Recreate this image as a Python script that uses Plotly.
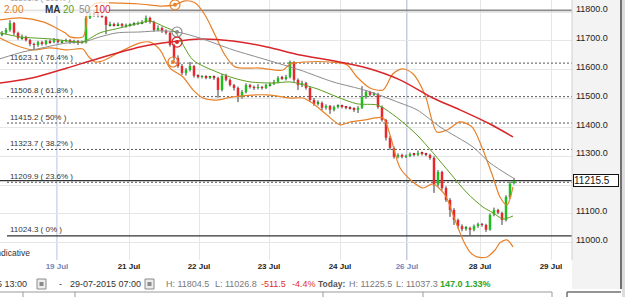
import plotly.graph_objects as go

# ---------------- data ----------------
closes = [11728, 11738, 11762, 11728, 11710, 11714, 11703, 11689, 11686, 11696,
          11689, 11700, 11696, 11703, 11696, 11700, 11703, 11696, 11700, 11696,
          11694, 11780, 11794, 11790, 11787, 11784, 11755, 11759, 11755, 11759,
          11752, 11755, 11757, 11759, 11762, 11766, 11780, 11766, 11738, 11745,
          11735, 11728, 11686, 11641, 11613, 11589, 11599, 11613, 11579, 11575,
          11577, 11572, 11575, 11572, 11530, 11579, 11565, 11547, 11537, 11506,
          11523, 11547, 11540, 11537, 11540, 11537, 11547, 11551, 11558, 11572,
          11569, 11575, 11627, 11565, 11547, 11554, 11537, 11495, 11482, 11485,
          11468, 11475, 11461, 11471, 11475, 11471, 11468, 11466, 11461, 11468,
          11506, 11523, 11513, 11516, 11471, 11426, 11364, 11329, 11298, 11305,
          11298, 11301, 11308, 11305, 11312, 11308, 11305, 11294, 11201, 11246,
          11190, 11149, 11114, 11079, 11058, 11048, 11052, 11045, 11058, 11065,
          11062, 11045, 11097, 11114, 11104, 11079, 11159, 11206, 11215.5]

opens = [11722, 11728, 11738, 11762, 11728, 11710, 11714, 11703, 11689, 11686,
         11696, 11689, 11700, 11696, 11703, 11696, 11700, 11703, 11696, 11700,
         11696, 11694, 11780, 11794, 11790, 11787, 11784, 11755, 11759, 11755,
         11759, 11752, 11755, 11757, 11759, 11762, 11766, 11780, 11766, 11738,
         11745, 11735, 11728, 11686, 11641, 11613, 11589, 11599, 11613, 11579,
         11575, 11577, 11572, 11575, 11572, 11530, 11579, 11565, 11547, 11537,
         11506, 11523, 11547, 11540, 11537, 11540, 11537, 11547, 11551, 11558,
         11572, 11569, 11575, 11627, 11565, 11547, 11554, 11537, 11495, 11482,
         11485, 11468, 11475, 11461, 11471, 11475, 11471, 11468, 11466, 11461,
         11468, 11506, 11523, 11513, 11516, 11471, 11426, 11364, 11329, 11298,
         11305, 11298, 11301, 11308, 11305, 11312, 11308, 11305, 11294, 11201,
         11246, 11190, 11149, 11114, 11079, 11058, 11048, 11052, 11045, 11058,
         11065, 11062, 11045, 11097, 11114, 11104, 11079, 11159, 11206]

highs = [11734, 11745, 11772, 11766, 11732, 11722, 11718, 11707, 11694, 11700,
         11700, 11704, 11705, 11710, 11707, 11704, 11708, 11706, 11704, 11703,
         11701, 11786, 11802, 11804.5, 11800, 11797, 11788, 11766, 11763, 11764,
         11762, 11760, 11761, 11765, 11767, 11772, 11788, 11784, 11770, 11754,
         11750, 11740, 11732, 11690, 11650, 11620, 11606, 11627, 11616, 11584,
         11581, 11581, 11579, 11580, 11576, 11585, 11586, 11570, 11551, 11542,
         11530, 11553, 11551, 11545, 11550, 11544, 11551, 11556, 11565, 11578,
         11579, 11582, 11632, 11630, 11570, 11562, 11558, 11541, 11502, 11494,
         11490, 11480, 11478, 11476, 11480, 11479, 11474, 11473, 11470, 11474,
         11543, 11530, 11527, 11522, 11520, 11476, 11430, 11370, 11334, 11310,
         11309, 11306, 11313, 11312, 11320, 11316, 11312, 11309, 11300, 11252,
         11250, 11196, 11155, 11120, 11084, 11064, 11058, 11056, 11063, 11070,
         11069, 11066, 11102, 11122, 11118, 11108, 11165, 11212, 11225.5]

lows = [11716, 11722, 11732, 11720, 11704, 11704, 11698, 11682, 11669, 11680,
        11684, 11685, 11690, 11692, 11691, 11692, 11696, 11690, 11691, 11686,
        11690, 11691, 11776, 11784, 11782, 11780, 11724, 11750, 11750, 11751,
        11747, 11746, 11750, 11752, 11755, 11758, 11762, 11760, 11732, 11734,
        11728, 11722, 11680, 11632, 11607, 11582, 11580, 11594, 11573, 11570,
        11570, 11567, 11568, 11565, 11503, 11525, 11560, 11542, 11528, 11488,
        11500, 11518, 11535, 11530, 11532, 11531, 11533, 11542, 11547, 11553,
        11565, 11563, 11570, 11558, 11530, 11540, 11531, 11488, 11475, 11476,
        11460, 11462, 11447, 11456, 11466, 11466, 11463, 11462, 11454, 11450,
        11464, 11500, 11507, 11508, 11465, 11420, 11355, 11322, 11292, 11293,
        11293, 11294, 11297, 11300, 11301, 11303, 11300, 11288, 11173, 11195,
        11182, 11142, 11090, 11062, 11050, 11040, 11042, 11026.8, 11040, 11052,
        11056, 11038, 11042, 11092, 11099, 11062, 11074, 11153, 11202]

ma20_x = [-0.5, 4.5, 12, 20, 21.25, 24.5, 29.5, 34.5, 37, 40.75,
          43.25, 47.75, 53.75, 57.75, 62, 67.75, 72, 74.5, 78.75, 83.75,
          88.75, 93.75, 95.75, 99.5, 103.75, 107.75, 112, 116.25, 120.25, 122.75,
          125.25, 127.75]
ma20_y = [11728, 11714, 11707, 11696, 11703, 11728, 11745, 11762, 11769, 11748,
          11731, 11634, 11592, 11572, 11558, 11554, 11558, 11551, 11534, 11506,
          11482, 11478, 11464, 11426, 11374, 11312, 11242, 11173, 11124, 11104,
          11083, 11093]

ma50_x = [-0.5, 5.25, 7.75, 16.25, 20.25, 24.5, 28.75, 34.5, 39.5, 43.75,
          49.5, 57.75, 66.25, 74.5, 82.75, 91.25, 99.5, 103.75, 109.5, 117.75,
          122, 127.75]
ma50_y = [11638, 11662, 11669, 11693, 11696, 11714, 11728, 11731, 11735, 11731,
          11710, 11669, 11634, 11599, 11558, 11527, 11485, 11461, 11402, 11332,
          11277, 11225]

ma100_x = [-0.5, 7.75, 16.25, 24.5, 34.5, 42, 49.5, 57.75, 66.25, 74.5,
           82.75, 91.25, 99.5, 107.75, 114.5, 122, 127.75]
ma100_y = [11554, 11572, 11606, 11641, 11679, 11696, 11707, 11700, 11679, 11651,
           11631, 11606, 11565, 11502, 11461, 11412, 11367]

bb_up_x = [-0.5, 4.5, 10.25, 15.75, 17, 20.25, 21, 21.5, 23.75, 27,
           34.5, 39.5, 43.25, 45.75, 48.25, 50.75, 53.25, 55.75, 58.25, 64.5,
           70.25, 72, 75.75, 82, 86.25, 88.75, 92, 95.25, 97.75, 100.25,
           102.75, 105.75, 108.75, 111.25, 114.5, 117.5, 120.25, 122.75, 124.5, 126.25,
           127.75]
bb_up_y = [11773, 11780, 11766, 11728, 11714, 11714, 11748, 11807, 11832, 11832,
           11828, 11821, 11825, 11839, 11832, 11790, 11721, 11651, 11610, 11606,
           11599, 11620, 11627, 11627, 11617, 11575, 11537, 11530, 11586, 11603,
           11586, 11513, 11384, 11391, 11419, 11402, 11322, 11228, 11159, 11131,
           11194]

bb_lo_x = [-0.5, 3.25, 7.75, 12, 16.25, 20.25, 21.5, 23.25, 25.75, 29.5,
           34.5, 37, 39.5, 42, 45.25, 47.75, 50.25, 53.75, 57.75, 66.25,
           72, 75.25, 78.25, 81.25, 84.5, 87, 90.75, 95.25, 97, 99.5,
           102.75, 105.25, 107.75, 110.75, 113.25, 115.25, 117, 118.75, 121.25, 123.25,
           124.5, 126.25, 127.75]
bb_lo_y = [11710, 11686, 11669, 11676, 11669, 11672, 11648, 11627, 11634, 11662,
           11693, 11696, 11669, 11606, 11575, 11530, 11502, 11495, 11506, 11513,
           11502, 11502, 11478, 11443, 11409, 11419, 11426, 11433, 11374, 11260,
           11211, 11190, 11204, 11166, 11079, 11010, 10968, 10951, 10951, 10975,
           11000, 11010, 10986]

cross_x = [43.25, 43.75, 43.75, 42.75]
cross_y = [11825, 11731, 11696, 11627]
cross_colors = ["#e8822a", "#8c8c8c", "#d8262b", "#e8822a"]

date_ticks = [13.75, 31.75, 49.25, 66.75, 84.5, 101.25, 119.5, 137.25]
date_labels = ["19 Jul", "21 Jul", "22 Jul", "23 Jul", "24 Jul", "26 Jul", "28 Jul", "29 Jul"]
date_marked = [True, False, False, False, False, True, False, False]

price_ticks = [11000, 11100, 11200, 11300, 11400, 11500, 11600, 11700, 11800]
price_labels = ["11000.0", "11100.0", "", "11300.0", "11400.0",
                "11500.0", "11600.0", "11700.0", "11800.0"]

fib_vals = [11806.1, 11623.1, 11506.8, 11415.2, 11323.7, 11209.9, 11024.3]
fib_pcts = ["100%", "76.4%", "61.8%", "50%", "38.2%", "23.6%", "0%"]
fib_solid = [True, False, False, False, False, False, True]

last_price = 11215.5

# ---------------- layout helpers ----------------
W, H = 572, 260
FONT = "Liberation Sans, Arial, sans-serif"


def PX(x):
    return x / W


def PY(y):
    return (H - y) / H


idx = list(range(len(closes)))
body_base = [min(o, c) for o, c in zip(opens, closes)]
body_h = [max(abs(c - o), 2) for o, c in zip(opens, closes)]
body_col = ["#1dbf1d" if c >= o else "#e8262c" for o, c in zip(opens, closes)]

wick_x, wick_y = [], []
for i, (o, c, h, l) in enumerate(zip(opens, closes, highs, lows)):
    wick_x += [i, i, None, i, i, None]
    wick_y += [max(o, c), h, None, min(o, c), l, None]

fig = go.Figure()
fig.add_trace(go.Scatter(x=wick_x, y=wick_y, mode="lines",
                         line=dict(color="#3a3a3a", width=1), hoverinfo="skip"))
fig.add_trace(go.Bar(x=idx, y=body_h, base=body_base, width=0.62,
                     marker=dict(color=body_col, line=dict(width=0)), hoverinfo="skip"))

fig.add_trace(go.Scatter(x=bb_up_x, y=bb_up_y, mode="lines",
                         line=dict(color="#e8822a", width=1.2, shape="spline", smoothing=0.8)))
fig.add_trace(go.Scatter(x=bb_lo_x, y=bb_lo_y, mode="lines",
                         line=dict(color="#e8822a", width=1.2, shape="spline", smoothing=0.8)))
fig.add_trace(go.Scatter(x=ma100_x, y=ma100_y, mode="lines",
                         line=dict(color="#d8262b", width=1.5, shape="spline", smoothing=0.8)))
fig.add_trace(go.Scatter(x=ma50_x, y=ma50_y, mode="lines",
                         line=dict(color="#8c8c8c", width=1, shape="spline", smoothing=0.8)))
fig.add_trace(go.Scatter(x=ma20_x, y=ma20_y, mode="lines",
                         line=dict(color="#5c9e1e", width=1, shape="spline", smoothing=0.8)))
fig.add_trace(go.Scatter(x=cross_x, y=cross_y, mode="markers",
                         marker=dict(symbol="circle-open", size=10, color=cross_colors,
                                     line=dict(width=1.2, color=cross_colors))))
fig.add_trace(go.Scatter(x=cross_x, y=cross_y, mode="markers",
                         marker=dict(symbol="circle", size=4, color=cross_colors)))

shapes = []
# right axis panel
shapes.append(dict(type="rect", xref="paper", yref="paper", x0=1, x1=PX(621), y0=PY(289), y1=1,
                   fillcolor="#f3f3f3", line=dict(width=0), layer="below"))
shapes.append(dict(type="line", xref="paper", yref="paper", x0=1, x1=1, y0=0, y1=1,
                   line=dict(color="#d0d0d0", width=1)))
shapes.append(dict(type="line", xref="paper", yref="paper", x0=PX(621), x1=PX(621), y0=PY(289), y1=1,
                   line=dict(color="#707070", width=2)))
shapes.append(dict(type="rect", xref="paper", yref="paper", x0=PX(622), x1=PX(626), y0=PY(298), y1=1,
                   fillcolor="#dcdcdc", line=dict(width=0)))

# date marker lines
for t, m in zip(date_ticks, date_marked):
    if m:
        col = "#a9b8e6" if t < 50 else "#8a96bf"
        shapes.append(dict(type="line", xref="x", yref="paper", x0=t, x1=t, y0=0, y1=1,
                           line=dict(color=col, width=1), layer="between"))

# fibonacci levels
for v, s in zip(fib_vals, fib_solid):
    if s:
        col = "#8a8a8a" if v > 11500 else "#333333"
        shapes.append(dict(type="line", xref="x", yref="y", x0=1.25, x1=142.5, y0=v, y1=v,
                           line=dict(color=col, width=1.6 if v > 11500 else 1.3), layer="between"))
    else:
        shapes.append(dict(type="line", xref="x", yref="y", x0=1.25, x1=142.5, y0=v, y1=v,
                           line=dict(color="#555555", width=1, dash="2px,2px"), layer="between"))

# last price line
shapes.append(dict(type="line", xref="x", yref="y", x0=-0.5, x1=142.5, y0=last_price, y1=last_price,
                   line=dict(color="#333333", width=1.2), layer="between"))

# legend backdrop
shapes.append(dict(type="rect", xref="paper", yref="paper", x0=0, x1=PX(109), y0=PY(16), y1=PY(1),
                   fillcolor="rgba(255,255,255,0.75)", line=dict(width=0), layer="above"))

# calendar icons
for x0 in [37, 145]:
    shapes.append(dict(type="rect", xref="paper", yref="paper", x0=PX(x0), x1=PX(x0 + 9),
                       y0=PY(289), y1=PY(279), fillcolor="#ececec", line=dict(color="#8a8a8a", width=1)))
    shapes.append(dict(type="rect", xref="paper", yref="paper", x0=PX(x0 + 2.5), x1=PX(x0 + 6.5),
                       y0=PY(286), y1=PY(282), fillcolor="#8a8a8a", line=dict(width=0)))

# bottom panel lines
shapes.append(dict(type="line", xref="paper", yref="paper", x0=0, x1=PX(552), y0=PY(292), y1=PY(292),
                   line=dict(color="#9a9a9a", width=1)))
for xx in [23, 75, 323, 423, 552]:
    shapes.append(dict(type="line", xref="paper", yref="paper", x0=PX(xx), x1=PX(xx), y0=PY(292), y1=PY(298),
                       line=dict(color="#9a9a9a", width=1)))
shapes.append(dict(type="line", xref="paper", yref="paper", x0=PX(567), x1=PX(621), y0=PY(292), y1=PY(292),
                   line=dict(color="#707070", width=1.5)))
shapes.append(dict(type="line", xref="paper", yref="paper", x0=PX(567), x1=PX(567), y0=PY(292), y1=PY(298),
                   line=dict(color="#707070", width=1.5)))

ann = []
for v, p in zip(fib_vals, fib_pcts):
    top = v > 11800
    ann.append(dict(x=PX(8), xref="paper", y=v, yref="y", text=f"{v:.1f} ( {p} )",
                    xanchor="left", yanchor="middle", yshift=12 if top else 6, showarrow=False,
                    font=dict(family=FONT, size=8, color="#9a9a9a" if top else "#333333")))

# legend text
legend_items = [("2.00", 2, "#e07b28", False), ("MA", 43, "#333333", True),
                ("20", 61, "#58a020", False), ("50", 77, "#8c8c8c", False),
                ("100", 92, "#d42a2a", False)]
for t, x0, col, b in legend_items:
    ann.append(dict(x=PX(x0), xref="paper", y=PY(9.5), yref="paper",
                    text=f"<b>{t}</b>" if b else t, xanchor="left", yanchor="middle",
                    showarrow=False, font=dict(family=FONT, size=10, color=col)))

ann.append(dict(x=PX(32), xref="paper", y=PY(253), yref="paper", text="Indicative",
                xanchor="right", yanchor="middle", showarrow=False,
                font=dict(family=FONT, size=8.5, color="#333333")))

# price box
ann.append(dict(x=PX(572.5), xref="paper", y=last_price, yref="y", text=f"{last_price:.1f}",
                xanchor="left", yanchor="middle", showarrow=False, width=44, align="left",
                bgcolor="white", bordercolor="#111111", borderwidth=1, borderpad=0,
                font=dict(family=FONT, size=10, color="#111111")))

# info bar
info = [("15-07-2015 13:00", 29, "#333333", "right", 9),
        ("-", 57, "#333333", "left", 9),
        ("29-07-2015 07:00", 68, "#333333", "left", 9),
        ("H: 11804.5", 164, "#7a7a7a", "left", 9),
        ("L: 11026.8", 213, "#7a7a7a", "left", 9),
        ("-511.5", 259, "#e03030", "left", 9),
        ("-4.4%", 290, "#e03030", "left", 9),
        ("<b>Today:</b>", 316, "#555555", "left", 8.5),
        ("H: 11225.5", 347, "#7a7a7a", "left", 9),
        ("L: 11037.3", 394, "#7a7a7a", "left", 9),
        ("<b>147.0</b>", 438, "#2aa52a", "left", 9),
        ("<b>1.33%</b>", 463, "#2aa52a", "left", 9)]
for t, x0, col, anc, fs in info:
    ann.append(dict(x=PX(x0), xref="paper", y=PY(284), yref="paper", text=t,
                    xanchor=anc, yanchor="middle", showarrow=False,
                    font=dict(family=FONT, size=fs, color=col)))

ticktext = [f"<b><span style='color:#7483b8'>{d}</span></b>" if m else f"<b>{d}</b>"
            for d, m in zip(date_labels, date_marked)]

fig.update_layout(
    width=625, height=297,
    margin=dict(l=0, r=53, t=0, b=37),
    paper_bgcolor="white", plot_bgcolor="white",
    showlegend=False,
    shapes=shapes, annotations=ann,
    xaxis=dict(range=[-0.5, 142.5], tickmode="array", tickvals=date_ticks, ticktext=ticktext,
               showgrid=True, gridcolor="#e6e6e6", gridwidth=1, zeroline=False, showline=False,
               ticks="", tickfont=dict(family=FONT, size=8, color="#222222"), fixedrange=True),
    yaxis=dict(range=[10940.4, 11841.9], side="right", tickmode="array", tickvals=price_ticks,
               ticktext=price_labels, showgrid=True, gridcolor="#e6e6e6", gridwidth=1,
               zeroline=False, showline=False, ticks="", ticklabelstandoff=3, ticklabelshift=-3,
               tickfont=dict(family=FONT, size=9, color="#222222"), fixedrange=True),
    font=dict(family=FONT),
)

fig.write_html("out.html")
